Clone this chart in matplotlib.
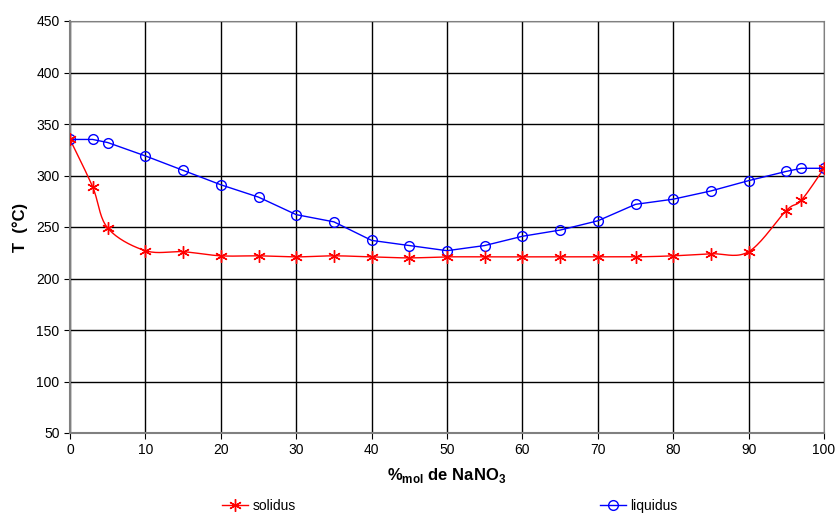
import numpy as np
import matplotlib
matplotlib.use("Agg")
import matplotlib.pyplot as plt

plt.rcParams['font.family'] = ['Liberation Sans', 'DejaVu Sans']
plt.rcParams['mathtext.fontset'] = 'custom'
plt.rcParams['mathtext.bf'] = 'Liberation Sans:bold'
plt.rcParams['mathtext.rm'] = 'Liberation Sans'

x_mol = [0, 3, 5, 10, 15, 20, 25, 30, 35, 40, 45, 50, 55, 60, 65, 70, 75, 80, 85, 90, 95, 97, 100]
solidus = [335, 289, 249, 227, 226, 222, 222, 221, 222, 221, 220, 221, 221, 221, 221, 221, 221, 222, 224, 226, 266, 276, 307]
liquidus = [335, 335, 332, 319, 305, 291, 279, 262, 255, 237, 232, 227, 232, 241, 247, 256, 272, 277, 285, 295, 304, 307, 307]


def smooth(xs, ys, n=20):
    # excel-like smoothed line (bezier through points)
    xs = np.asarray(xs, float)
    ys = np.asarray(ys, float)
    px, py = [], []
    m = len(xs)
    for i in range(m - 1):
        x0, y0 = xs[max(i - 1, 0)], ys[max(i - 1, 0)]
        x1, y1 = xs[i], ys[i]
        x2, y2 = xs[i + 1], ys[i + 1]
        x3, y3 = xs[min(i + 2, m - 1)], ys[min(i + 2, m - 1)]
        c1x, c1y = x1 + (x2 - x0) / 6, y1 + (y2 - y0) / 6
        c2x, c2y = x2 - (x3 - x1) / 6, y2 - (y3 - y1) / 6
        t = np.linspace(0, 1, n)
        px.extend((1-t)**3*x1 + 3*(1-t)**2*t*c1x + 3*(1-t)*t**2*c2x + t**3*x2)
        py.extend((1-t)**3*y1 + 3*(1-t)**2*t*c1y + 3*(1-t)*t**2*c2y + t**3*y2)
    return px, py


star = (6, 2, 0)

fig = plt.figure(figsize=(8.38, 5.13), dpi=100)
ax = fig.add_axes([70/838, 80/513, 754/838, 412/513])

sx, sy = smooth(x_mol, solidus)
ax.plot(sx, sy, color='red', lw=1, zorder=3)
ax.plot(x_mol, solidus, ls='none', marker=star, color='red', ms=9, mew=1, zorder=4)
h_sol, = ax.plot([], [], color='red', marker=star, lw=1, ms=9, mew=1)
h_liq, = ax.plot(x_mol, liquidus, color='blue', lw=1, marker='o', mfc='none', mec='blue',
                 ms=7, mew=1, zorder=3)

ax.set_xlim(0, 100)
ax.set_ylim(50, 450)
ax.set_xticks(range(0, 101, 10))
ax.set_yticks(range(50, 451, 50))
ax.grid(True, color='black', lw=1)
ax.set_axisbelow(True)
for s in ['top', 'right']:
    ax.spines[s].set_color('#808080')
for s in ['left', 'bottom']:
    ax.spines[s].set_color('#808080')
    ax.spines[s].set_linewidth(1.5)
ax.tick_params(direction='out', length=4, labelsize=10, colors='black')

ax.set_xlabel('%$_{\\mathbf{mol}}$ de NaNO$_\\mathbf{3}$', fontsize=12, fontweight='bold', labelpad=6)
ax.set_ylabel('T  (°C)', fontsize=12, fontweight='bold', labelpad=6)

leg_kw = dict(loc='center left', frameon=False, fontsize=10, handlelength=1.9,
              handletextpad=0.3, borderpad=0, borderaxespad=0)
fig.legend([h_sol], ['solidus'], bbox_to_anchor=(222/838, 7/513), **leg_kw)
fig.legend([h_liq], ['liquidus'], bbox_to_anchor=(600/838, 7/513), **leg_kw)

fig.savefig('out.png', dpi=100)
